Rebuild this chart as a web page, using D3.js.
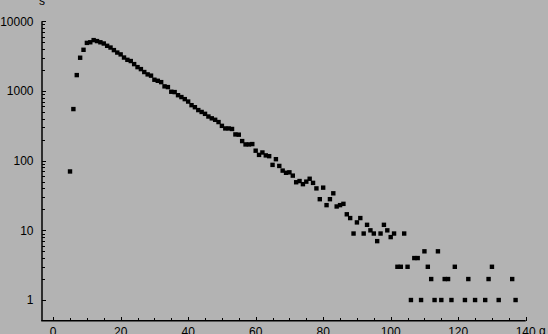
<!DOCTYPE html>
<html>
<head>
<meta charset="utf-8">
<script src="https://cdn.jsdelivr.net/npm/d3@7"></script>
<style>
html,body{margin:0;padding:0;background:#b3b3b3;overflow:hidden;}
svg{display:block;}
text{font-family:"Liberation Sans",Arial,sans-serif;font-size:12px;fill:#000;}
</style>
</head>
<body>
<svg id="chart" width="548" height="334"></svg>
<script>
// Data (g vs s, log scale)
const gValues = [5,6,7,8,9,10,11,12,13,14,15,16,17,18,19,20,21,22,23,24,25,26,27,28,29,30,
  31,32,33,34,35,36,37,38,39,40,41,42,43,44,45,46,47,48,49,50,51,52,53,54,55,56,57,58,59,60,
  61,62,63,64,65,66,67,68,69,70,71,72,73,74,75,76,77,78,79,80,81,82,83,84,85,86,87,88,89,90,
  91,92,93,94,95,96,97,98,99,100,101,102,103,104,105,106,107,108,109,110,111,112,113,114,115,
  116,117,118,119,122,123,125,128,129,130,132,136,137];
const sValues = [70,550,1690,3000,3900,4900,5000,5370,5200,5000,4800,4450,4200,3860,3560,3350,3020,2800,2690,2430,2200,2060,1870,1730,1660,1450,
  1400,1340,1165,1137,975,964,870,818,764,705,626,585,532,500,470,430,405,386,358,316,290,290,285,238,236,191,171,171,173,139,
  121,131,119,116,87,105,84,72,67,68,61,49,51,46,50,55,48,40,28,41,23,28,34,22,23,24,17,15,9,13,
  15,9,12,10,9,7,9,12,10,8,9,3,3,9,3,1,4,4,1,5,3,2,1,5,1,
  2,2,1,3,1,2,1,1,2,3,1,2,1];
const xMajorTicks = [0,20,40,60,80,100,120,140];
const xMinorTicks = d3.range(0,141,5);
const yMajorTicks = [1,10,100,1000,10000];
const yMinorTicks = [2,3,4,5,6,7,8,9,20,30,40,50,60,70,80,90,200,300,400,500,600,700,800,900,2000,3000,4000,5000,6000,7000,8000,9000];
const xLabel = "g";
const yLabel = "s";

const svg = d3.select("#chart");
const x = d3.scaleLinear().domain([-3.3, 140]).range([42, 525.7]);
const y = d3.scaleLog().domain([0.505, 10000]).range([320.7, 21.3]);

// axis lines
const axl = svg.append("g").attr("stroke","#000").attr("stroke-width",1.5);
axl.append("line").attr("x1",x(-3.3)-0.75).attr("x2",x(140)).attr("y1",y(0.505)).attr("y2",y(0.505));
axl.append("line").attr("x1",x(-3.3)).attr("x2",x(-3.3)).attr("y1",y(0.505)).attr("y2",y(10000));

const ax = svg.append("g").attr("stroke","#000").attr("stroke-width",1).attr("shape-rendering","crispEdges");
// x ticks
ax.selectAll(".xmin").data(xMinorTicks).enter().append("line")
  .attr("x1",d=>Math.round(x(d))+0.5).attr("x2",d=>Math.round(x(d))+0.5)
  .attr("y1",y(0.505)).attr("y2",d=>y(0.505)-(d%20===0?3.8:2.5));
// y ticks
ax.selectAll(".ymaj").data(yMajorTicks).enter().append("line")
  .attr("x1",x(-3.3)).attr("x2",x(-3.3)+3.8).attr("y1",d=>Math.round(y(d))+0.5).attr("y2",d=>Math.round(y(d))+0.5);
ax.selectAll(".ymin").data(yMinorTicks).enter().append("line")
  .attr("x1",x(-3.3)).attr("x2",x(-3.3)+2.5).attr("y1",d=>Math.round(y(d))+0.5).attr("y2",d=>Math.round(y(d))+0.5);

// labels
svg.selectAll(".xl").data(xMajorTicks).enter().append("text")
  .attr("x",d=>x(d)).attr("y",335.5).attr("text-anchor","middle").text(d=>d);
svg.selectAll(".yl").data(yMajorTicks).enter().append("text")
  .attr("x",33.5).attr("y",d=>y(d)+4.2).attr("text-anchor","end").text(d=>d);
svg.append("text").attr("x",539).attr("y",335).text(xLabel);
svg.append("text").attr("x",x(-3.3)).attr("y",5).attr("text-anchor","middle").text(yLabel);

// points
const pts = gValues.map((g,i)=>({g, s:sValues[i]}));
svg.append("g").selectAll("rect").data(pts).enter().append("rect")
  .attr("x",d=>x(d.g)-2.2).attr("y",d=>y(d.s)-2.2)
  .attr("width",4.4).attr("height",4.4).attr("fill","#000");
</script>
</body>
</html>
